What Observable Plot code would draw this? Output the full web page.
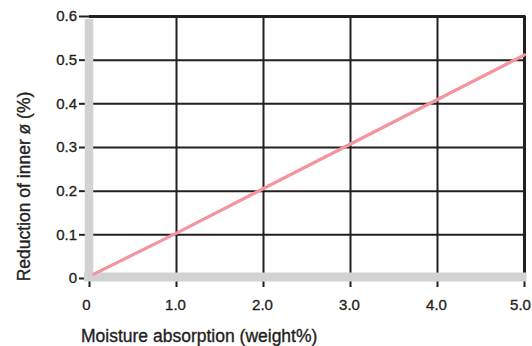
<!DOCTYPE html>
<html>
<head>
<meta charset="utf-8">
<script src="https://cdn.jsdelivr.net/npm/d3@7"></script>
<script src="https://cdn.jsdelivr.net/npm/@observablehq/plot@0.6"></script>
<style>
  html, body { margin: 0; padding: 0; background: #fff; }
  #chart svg { display: block; }
  #chart svg text { stroke: #231f20; stroke-width: 0.35px; }
</style>
</head>
<body>
<div id="chart"></div>
<script>
// Data
const moisture = [0.05, 1, 2, 3, 4, 5];
const reduction = [0.01, 0.104, 0.206, 0.308, 0.41, 0.512];
const xTicks = [0, 1, 2, 3, 4, 5];
const xTickLabels = ["0", "1.0", "2.0", "3.0", "4.0", "5.0"];
const yTicks = [0, 0.1, 0.2, 0.3, 0.4, 0.5, 0.6];
const yTickLabels = ["0", "0.1", "0.2", "0.3", "0.4", "0.5", "0.6"];
const xTitle = "Moisture absorption (weight%)";
const yTitle = "Reduction of inner ø (%)";

const series = moisture.map((m, i) => ({x: m, y: reduction[i]}));
const ink = "#231f20";
const grey = "#d1d2d3";
const pink = "#f3959f";
const xLabel = d => xTickLabels[xTicks.indexOf(d)];
const yLabel = d => yTickLabels[yTicks.indexOf(d)];

const chart = Plot.plot({
  width: 532,
  height: 346,
  marginLeft: 89,
  marginRight: 8,
  marginTop: 16,
  marginBottom: 68,
  style: {fontFamily: "'Liberation Sans', Arial, sans-serif", fontSize: "15px", color: ink, background: "#fff"},
  x: {domain: [0, 5]},
  y: {domain: [0, 0.6]},
  marks: [
    // grid
    Plot.ruleX(xTicks.slice(1, 5), {stroke: ink, strokeWidth: 2}),
    Plot.ruleX([5], {stroke: ink, strokeWidth: 3}),
    Plot.ruleY(yTicks.slice(1, 6), {stroke: ink, strokeWidth: 2}),
    Plot.ruleY([0.6], {stroke: ink, strokeWidth: 3, x1: 0, x2: 5, insetRight: -1.5}),
    // tick marks
    Plot.axisY(yTicks, {tickSize: 10, stroke: ink, strokeWidth: 2, tickFormat: () => "", label: null}),
    Plot.axisX(xTicks, {tickSize: 9, stroke: ink, strokeWidth: 2, tickFormat: () => "", label: null}),
    // tick labels
    Plot.axisY(yTicks, {tickSize: 0, tickPadding: 12.5, tickFormat: yLabel, fill: ink, fontSize: 15, label: null}),
    Plot.axisX([0], {tickSize: 0, tickPadding: 21, tickFormat: xLabel, fill: ink, fontSize: 15, dx: -3, label: null}),
    Plot.axisX(xTicks.slice(1, 5), {tickSize: 0, tickPadding: 21, tickFormat: xLabel, fill: ink, fontSize: 15, dx: -1, label: null}),
    Plot.axisX([5], {tickSize: 0, tickPadding: 21, tickFormat: xLabel, fill: ink, fontSize: 15, dx: -4, label: null}),
    // grey frame bars
    Plot.ruleX([0], {y1: 0, y2: 0.6, stroke: grey, strokeWidth: 8.5, dx: -0.5, insetBottom: -3}),
    Plot.ruleY([0], {x1: 0, x2: 5, stroke: grey, strokeWidth: 9, dy: -1.5, insetLeft: -5, insetRight: -2.5}),
    // data line
    Plot.line(series, {x: "x", y: "y", stroke: pink, strokeWidth: 3.2}),
    // titles
    Plot.text([xTitle], {frameAnchor: "bottom-left", textAnchor: "start", lineAnchor: "middle", dx: -8.5, dy: 57.6, fill: ink, fontSize: 17.5}),
    Plot.text([yTitle], {frameAnchor: "left", rotate: -90, textAnchor: "middle", lineAnchor: "middle", dx: -65, dy: 39, fill: ink, fontSize: 17.5})
  ]
});
document.getElementById("chart").appendChild(chart);
</script>
</body>
</html>
